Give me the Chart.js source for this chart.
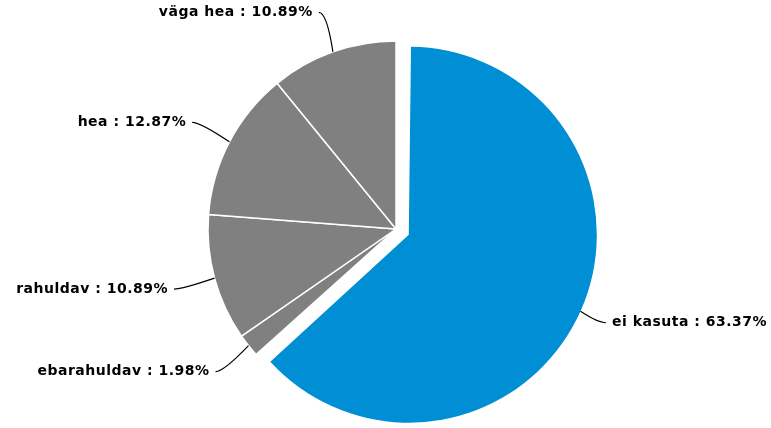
<!DOCTYPE html>
<html>
<head>
<meta charset="utf-8">
<script src="https://cdn.jsdelivr.net/npm/chart.js@4"></script>
<style>
  html, body { margin: 0; padding: 0; background: #fff; overflow: hidden; }
</style>
</head>
<body>
<canvas id="pie_chart" width="771" height="428"></canvas>
<script>
// answers (counts out of 101)
const labels = ["ei kasuta", "ebarahuldav", "rahuldav", "hea", "väga hea"];
const counts = [64, 2, 11, 13, 11];
const colors = ["#008fd5", "#808080", "#808080", "#808080", "#808080"];
const explode = [14, 0, 0, 0, 0];   // px the slice is pulled out

const total = counts.reduce((a, b) => a + b, 0);
const R = 188;

// chart.js grows a pulled-out slice by its offset, take that back
const keepRadius = {
    id: "keepRadius",
    afterDatasetUpdate(chart, args) {
        const meta = chart.getDatasetMeta(args.index);
        meta.data.forEach((arc, i) => {
            arc.outerRadius = R - explode[i];
        });
    }
};

// labels outside with leader lines
const outLabels = {
    id: "outLabels",
    afterDatasetsDraw(chart) {
        const ctx = chart.ctx;
        const meta = chart.getDatasetMeta(0);
        ctx.save();
        ctx.font = "bold 14px 'DejaVu Sans', Verdana, sans-serif";
        ctx.letterSpacing = "0.5px";
        ctx.textBaseline = "middle";
        ctx.strokeStyle = "#000";
        ctx.fillStyle = "#000";
        ctx.lineWidth = 1.2;
        meta.data.forEach((arc, i) => {
            const p = arc.getProps(["x", "y", "startAngle", "endAngle"], true);
            const mid = (p.startAngle + p.endAngle) / 2;
            const dx = Math.cos(mid), dy = Math.sin(mid);
            const sx = p.x + dx * (R + explode[i]);
            const sy = p.y + dy * (R + explode[i]);
            const ex = p.x + dx * (R + 42);
            const ey = p.y + dy * (R + 42);
            const left = dx < 0;
            const cx = ex + (left ? 8 : -8);
            ctx.beginPath();
            ctx.moveTo(sx, sy);
            ctx.quadraticCurveTo(cx, ey, ex, ey);
            ctx.stroke();
            const pct = (counts[i] / total * 100).toFixed(2) + "%";
            const txt = labels[i] + " : " + pct;
            ctx.textAlign = left ? "right" : "left";
            ctx.fillText(txt, ex + (left ? -6 : 6), ey);
        });
        ctx.restore();
    }
};

new Chart("pie_chart", {
    type: "pie",
    data: {
        labels: labels,
        datasets: [{
            data: counts,
            backgroundColor: colors,
            borderColor: "#fff",
            borderWidth: [0, 1.5, 1.5, 1.5, 1.5],
            offset: explode.map(v => v * 4),   // chart.js v4 draws offset/4
            hoverOffset: 0
        }]
    },
    options: {
        responsive: false,
        animation: false,
        radius: R,
        layout: { padding: { left: 21, right: 0, top: 30, bottom: 0 } },
        plugins: {
            legend: { display: false },
            tooltip: { enabled: false }
        }
    },
    plugins: [keepRadius, outLabels]
});
</script>
</body>
</html>
